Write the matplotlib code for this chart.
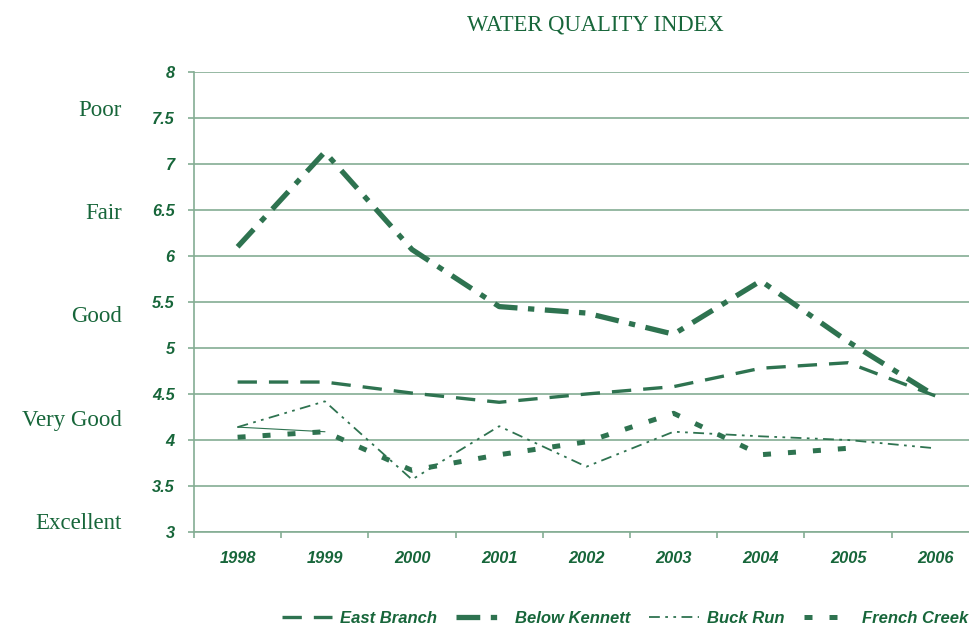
import numpy as np
from matplotlib import pyplot as plt
from matplotlib.ticker import FixedLocator

# data
years = ['1998', '1999', '2000', '2001', '2002', '2003', '2004', '2005', '2006']
east_branch = [4.63, 4.63, 4.51, 4.41, 4.50, 4.58, 4.78, 4.84, 4.48]
below_kennett = [6.10, 7.13, 6.07, 5.45, 5.38, 5.15, 5.73, 5.07, 4.48]
buck_run = [4.14, 4.42, 3.57, 4.15, 3.71, 4.09, 4.04, 4.00, 3.91]
french_creek = [4.03, 4.09, 3.67, 3.84, 3.98, 4.29, 3.84, 3.91, np.nan]
# stray thin segment visible in the original between 1998 and 1999
stray = [4.14, 4.09]

ratings = ['Poor', 'Fair', 'Good', 'Very Good', 'Excellent']
rating_y = [7.52, 6.40, 5.28, 4.15, 3.03]
yticks = [3, 3.5, 4, 4.5, 5, 5.5, 6, 6.5, 7, 7.5, 8]

line_col = '#2e7350'
text_col = '#17663a'
grid_col = '#84ad94'

fig = plt.figure(figsize=(9.69, 6.25), dpi=100)
ax = fig.add_axes([194/969, 1-532/625, 1-194/969, (532-72)/625])

x = np.arange(len(years))
ax.plot(x, east_branch, color=line_col, lw=2.4, dashes=(5.8, 3.6), label='East Branch')
ax.plot(x, below_kennett, color=line_col, lw=3.8, dashes=(4.5, 2, 1.2, 2), label='Below Kennett')
ax.plot(x, buck_run, color=line_col, lw=1.3, dashes=(6, 3, 1.5, 3, 1.5, 3), label='Buck Run')
ax.plot(x, french_creek, color=line_col, lw=3.6, dashes=(1.6, 3.4), label='French Creek')
ax.plot(x[:2], stray, color=line_col, lw=0.8)

ax.set_ylim(3, 8)
ax.set_xlim(-0.5, -0.5 + (969-194)/87.2)
ax.set_yticks(yticks)
ax.set_yticklabels([('%g' % v) for v in yticks])
ax.set_xticks(x)
ax.set_xticklabels(years)
ax.xaxis.set_minor_locator(FixedLocator(np.arange(-0.5, 9, 1)))

ax.grid(axis='y', color=grid_col, lw=1.2)
ax.set_axisbelow(True)
for s in ['top', 'right']:
    ax.spines[s].set_visible(False)
for s in ['left', 'bottom']:
    ax.spines[s].set_color(grid_col)
    ax.spines[s].set_linewidth(1.2)

ax.tick_params(axis='y', length=4, width=1.2, color=grid_col, pad=10)
ax.tick_params(axis='x', which='major', length=0, pad=14)
ax.tick_params(axis='x', which='minor', length=4, width=1.2, color=grid_col)
for lab in ax.get_xticklabels() + ax.get_yticklabels():
    lab.set_fontfamily('Liberation Sans')
    lab.set_fontweight('bold')
    lab.set_fontstyle('italic')
    lab.set_fontsize(11.8)
    lab.set_color(text_col)

for r, yv in zip(ratings, rating_y):
    ax.text((122-194)/775, yv, r, transform=ax.get_yaxis_transform(), ha='right',
            va='baseline', fontsize=16.5, family='Liberation Serif', color=text_col)

fig.text(595/969, 1-30/625, 'WATER QUALITY INDEX', ha='center', va='baseline',
         fontsize=16.3, family='Liberation Serif', color=text_col)

handles, labels = ax.get_legend_handles_labels()
leg = fig.legend(handles[:4], labels[:4], ncol=4, loc='lower right',
                 bbox_to_anchor=(1.015, -0.026), frameon=False, handlelength=3.0,
                 handletextpad=0.5, columnspacing=1.15,
                 prop={'family': 'Liberation Sans', 'weight': 'bold', 'style': 'italic', 'size': 12})
for t in leg.get_texts():
    t.set_color(text_col)

fig.savefig('out.png', dpi=100)
